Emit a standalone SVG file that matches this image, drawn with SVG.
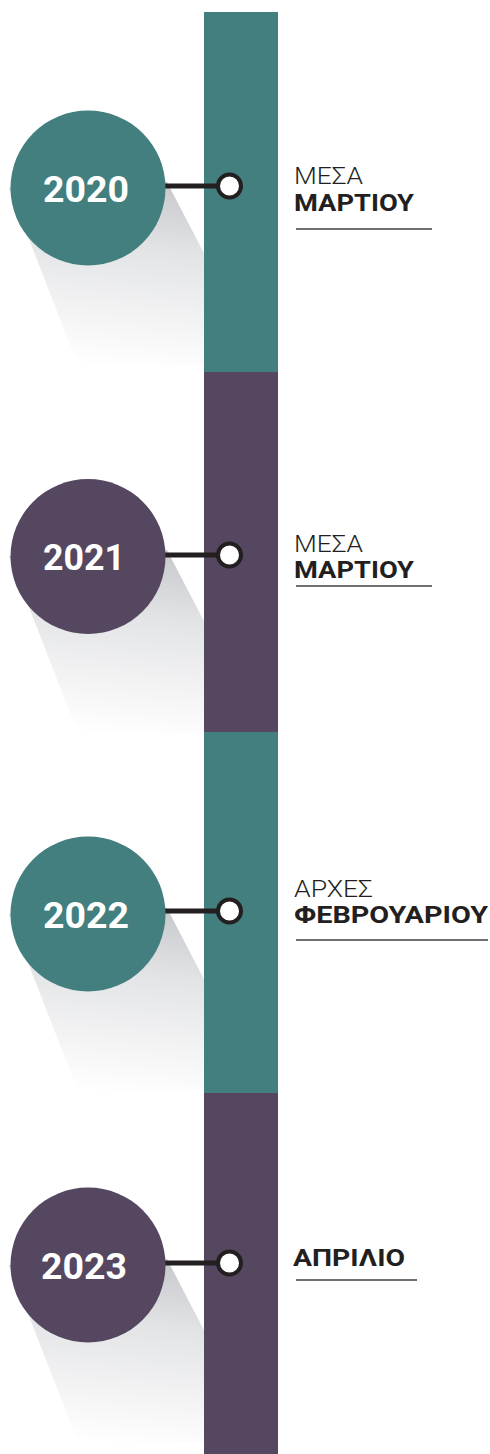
<svg xmlns="http://www.w3.org/2000/svg" width="490" height="1454" viewBox="0 0 490 1454">
  <style>
    .teal { fill: #427f7e; }
    .plum { fill: #54475f; }
    .shadow { fill: url(#shadowGrad); }
    .year { font-family: Roboto, "Liberation Sans", sans-serif; font-weight: 700; font-size: 37px; fill: #ffffff; text-anchor: middle; }
    .light { font-family: Roboto, "Liberation Sans", sans-serif; font-weight: 300; font-size: 24px; fill: #231f20; }
    .bold { font-family: Roboto, "Liberation Sans", sans-serif; font-weight: 700; font-size: 24px; fill: #231f20; }
    .rule { stroke: #414042; stroke-width: 1.5; }
    .link { stroke: #231f20; stroke-width: 5; }
    .dot { fill: #ffffff; stroke: #231f20; stroke-width: 4; }
  </style>
  <defs>
    <linearGradient id="shadowGrad" x1="0.45" y1="0" x2="0.3" y2="1">
      <stop offset="0" stop-color="#c9cacd"/>
      <stop offset="0.35" stop-color="#e3e4e6"/>
      <stop offset="1" stop-color="#ffffff"/>
    </linearGradient>
  </defs>
  <rect width="490" height="1454" fill="#ffffff"/>

  <g id="shadows">
    <polygon class="shadow" points="9,188 167,182 262,365 78,365"/>
    <polygon class="shadow" points="9,556 167,550 262,733 78,733"/>
    <polygon class="shadow" points="9,914 167,908 262,1091 78,1091"/>
    <polygon class="shadow" points="9,1265 167,1259 262,1442 78,1442"/>
  </g>

  <g id="bar">
    <rect class="teal" x="204" y="12" width="74" height="360"/>
    <rect class="plum" x="204" y="372" width="74" height="360"/>
    <rect class="teal" x="204" y="732" width="74" height="361"/>
    <rect class="plum" x="204" y="1093" width="74" height="361"/>
  </g>

  <g id="connectors">
    <line class="link" x1="150" y1="186" x2="222" y2="186"/>
    <line class="link" x1="150" y1="555" x2="222" y2="555"/>
    <line class="link" x1="150" y1="911" x2="222" y2="911"/>
    <line class="link" x1="150" y1="1263" x2="222" y2="1263"/>
    <circle class="dot" cx="229.5" cy="186" r="11.5"/>
    <circle class="dot" cx="229.5" cy="555" r="11.5"/>
    <circle class="dot" cx="229.5" cy="911" r="11.5"/>
    <circle class="dot" cx="229.5" cy="1263" r="11.5"/>
  </g>

  <g id="node-2020">
    <circle class="teal" cx="88" cy="188" r="77.5"/>
    <text class="year" x="86" y="201.5" textLength="86" lengthAdjust="spacingAndGlyphs">2020</text>
  </g>
  <g id="node-2021">
    <circle class="plum" cx="88" cy="556.5" r="77.5"/>
    <text class="year" x="84" y="570" textLength="82" lengthAdjust="spacingAndGlyphs">2021</text>
  </g>
  <g id="node-2022">
    <circle class="teal" cx="88" cy="914" r="77.5"/>
    <text class="year" x="86" y="927.5" textLength="86" lengthAdjust="spacingAndGlyphs">2022</text>
  </g>
  <g id="node-2023">
    <circle class="plum" cx="88" cy="1265" r="77.5"/>
    <text class="year" x="84" y="1278.5" textLength="86" lengthAdjust="spacingAndGlyphs">2023</text>
  </g>

  <g id="label-2020">
    <text class="light" x="294" y="184" textLength="69" lengthAdjust="spacingAndGlyphs">ΜΕΣΑ</text>
    <text class="bold" x="294" y="211" textLength="120" lengthAdjust="spacingAndGlyphs">ΜΑΡΤΙΟΥ</text>
    <line class="rule" x1="296" y1="229" x2="432" y2="229"/>
  </g>
  <g id="label-2021">
    <text class="light" x="294" y="552" textLength="69" lengthAdjust="spacingAndGlyphs">ΜΕΣΑ</text>
    <text class="bold" x="294" y="578" textLength="120" lengthAdjust="spacingAndGlyphs">ΜΑΡΤΙΟΥ</text>
    <line class="rule" x1="296" y1="586" x2="432" y2="586"/>
  </g>
  <g id="label-2022">
    <text class="light" x="294" y="897" textLength="79" lengthAdjust="spacingAndGlyphs">ΑΡΧΕΣ</text>
    <text class="bold" x="294" y="923" textLength="194" lengthAdjust="spacingAndGlyphs">ΦΕΒΡΟΥΑΡΙΟΥ</text>
    <line class="rule" x1="296" y1="940" x2="488" y2="940"/>
  </g>
  <g id="label-2023">
    <text class="bold" x="293" y="1266" textLength="112" lengthAdjust="spacingAndGlyphs">ΑΠΡΙΛΙΟ</text>
    <line class="rule" x1="296" y1="1280" x2="417" y2="1280"/>
  </g>
</svg>
